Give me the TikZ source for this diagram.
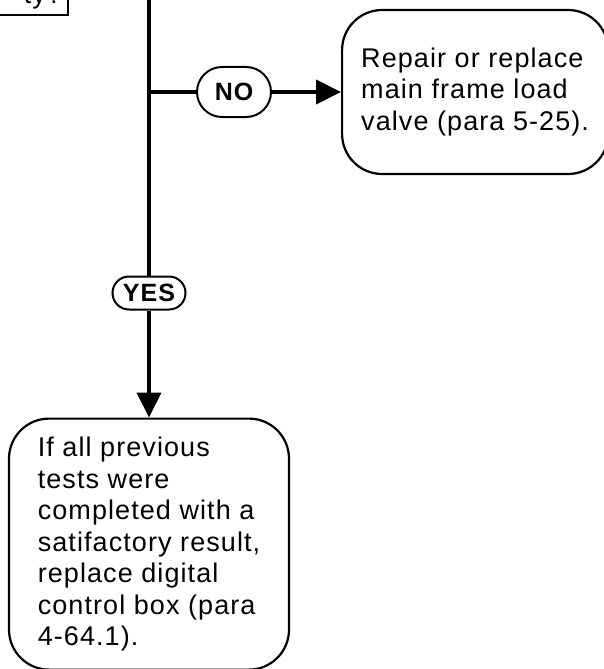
\documentclass[tikz,border=0pt]{standalone}
\usepackage{fontspec}
\setmainfont{Liberation Sans}[LetterSpace=4]
\usetikzlibrary{arrows.meta,positioning}

\begin{document}
\begin{tikzpicture}[
  x=1pt, y=1pt,
  font=\fontsize{27}{31.5}\selectfont,
  node distance=69pt,
  query/.style={draw, line width=2pt, anchor=south east, text width=80pt, align=right, inner xsep=6pt, inner ysep=6pt},
  action/.style={draw, line width=2.2pt, rounded corners=40pt, align=left, inner sep=0pt},
  answer/.style={draw, line width=2pt, font=\fontsize{25}{28}\selectfont\bfseries, inner sep=0pt},
  flow/.style={line width=4pt},
  arrow/.style={flow, -{Triangle[length=25pt, width=24pt]}}
]
\useasboundingbox (0,0) rectangle (604,-669);

% question above, cut off by the page
\node[query] (prev) at (69,-16) {ty?};
\coordinate (top) at (149,0);
\coordinate (split) at (149,-92);

\node[answer, minimum width=74pt, minimum height=50pt, rounded corners=25pt] (no) at (234,-92) {NO};
\node[action, right=69pt of no, minimum width=266pt, minimum height=164pt] (repair) {Repair or replace\\main frame load\\valve (para 5-25).};

\node[answer, minimum width=73pt, minimum height=33pt, rounded corners=16.5pt] (yes) at (149,-293) {YES};
\node[action, below=107pt of yes, minimum width=280pt, minimum height=251pt] (fix) {If all previous\\tests were\\completed with a\\satifactory result,\\replace digital\\control box (para\\4-64.1).};

\draw[flow] (top) -- (yes);
\draw[arrow] (yes) -- (fix);
\draw[flow] (split) -- (no);
\draw[arrow] (no) -- (repair);
\end{tikzpicture}
\end{document}
